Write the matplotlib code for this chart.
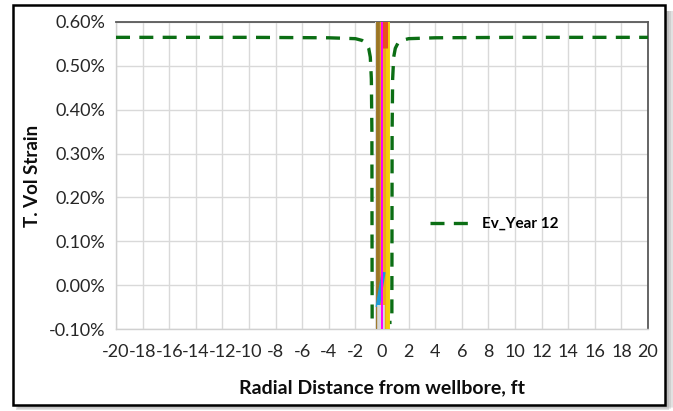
import matplotlib
matplotlib.use("Agg")
import matplotlib.pyplot as plt
from matplotlib.patches import Rectangle
from matplotlib.ticker import FuncFormatter, MultipleLocator

plt.rcParams['font.family'] = ['Lato', 'DejaVu Sans']
plt.rcParams['axes.unicode_minus'] = False

# Ev_Year 12 profile (radial distance ft, vol strain %)
ev_x = [-20, -10, -4, -2, -1.5, -1.2, -1.0, -0.88, -0.8, -0.76, -0.75, -0.74,
        0.74, 0.75, 0.76, 0.8, 0.88, 1.0, 1.2, 1.5, 2, 4, 10, 20]
ev_y = [0.565, 0.565, 0.564, 0.562, 0.558, 0.552, 0.54, 0.52, 0.47, 0.35, 0.1, -0.085,
        -0.085, 0.1, 0.35, 0.47, 0.52, 0.54, 0.552, 0.558, 0.562, 0.564, 0.565, 0.565]

# other years collapse onto the wellbore -> near-vertical lines
band_x = [[-0.42, -0.42], [-0.27, -0.27], [-0.1, -0.1], [0.2, 0.2], [0.42, 0.42],
          [0.22, 0.22], [0.12, -0.33], [-0.08, -0.08], [0.03, 0.03]]
band_y = [[-0.1, 0.62], [-0.1, 0.62], [-0.1, 0.62], [-0.1, 0.62], [-0.1, 0.62],
          [0.54, 0.62], [0.03, -0.05], [-0.1, -0.045], [-0.1, 0.62]]
band_c = ['#dcdcdc', '#9c7624', '#e3a21a', '#f0a818', '#f2cf0a',
          '#e8521c', '#1e9bd7', '#d8d8d8', '#ff00ff']
band_w = [1.4, 2.8, 2.2, 2.8, 2.8, 3.6, 3.0, 5.5, 1.4]

xticks = list(range(-20, 21, 2))

fig = plt.figure(figsize=(6.73, 4.11), dpi=100)

# outer chart frame with shadow
for i, a in enumerate([0.10, 0.14, 0.18, 0.22]):
    fig.patches.append(Rectangle((19 / 673 - i * 0.0015, 0.009 - i * 0.002),
                                 (656 - i) / 673, (396 + i) / 411,
                                 transform=fig.transFigure, facecolor='#808080', alpha=a,
                                 edgecolor='none', zorder=0))
fig.patches.append(Rectangle((13 / 673, 1 - 405 / 411), 652 / 673, 400 / 411,
                             transform=fig.transFigure, facecolor='white',
                             edgecolor='black', linewidth=1.8, zorder=1))

ax = fig.add_axes([116 / 673, 1 - 329 / 411, 532 / 673, 307 / 411], zorder=2)

ev_line, = ax.plot(ev_x, ev_y, color='#0b6e14', linewidth=2.4, zorder=3)
ev_line.set_dashes([4.2, 2.8])

for bx, by, bc, bw in zip(band_x, band_y, band_c, band_w):
    ax.plot(bx, by, color=bc, linewidth=bw, solid_capstyle='butt', zorder=4)

ax.set_xlim(-20, 20)
ax.set_ylim(-0.1, 0.6)
ax.set_xticks(xticks)
ax.yaxis.set_major_locator(MultipleLocator(0.1))
ax.yaxis.set_major_formatter(FuncFormatter(lambda v, p: f'{v:.2f}%'))
ax.grid(True, color='#d9d9d9', linewidth=1)
ax.set_axisbelow(True)
ax.tick_params(length=0, labelsize=13, colors='#262626', pad=8)
ax.tick_params(axis='x', pad=11)

for s in ['top', 'right']:
    ax.spines[s].set_color('#595959')
    ax.spines[s].set_linewidth(1.3)
for s in ['left', 'bottom']:
    ax.spines[s].set_color('#d0d0d0')
    ax.spines[s].set_linewidth(1)

ax.set_xlabel('Radial Distance from wellbore, ft', fontsize=14, fontweight='bold',
              color='#0d0d0d', labelpad=14)
ax.set_ylabel('T. Vol Strain', fontsize=13.5, fontweight='bold', color='#0d0d0d', labelpad=5)

ax.legend([ev_line], ['Ev_Year 12'], loc='center left', bbox_to_anchor=(0.565, 0.342),
          frameon=False, handlelength=3.0, handletextpad=0.4,
          prop={'weight': 'bold', 'size': 11})

fig.savefig('out.png', dpi=100)
